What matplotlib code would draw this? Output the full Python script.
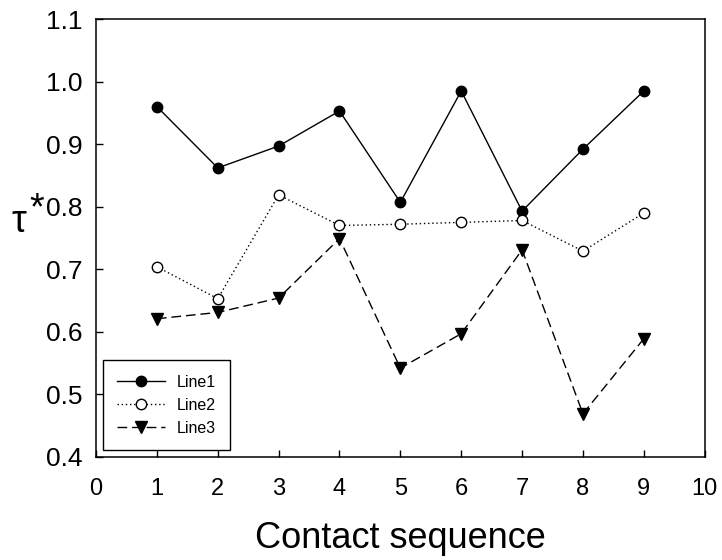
import numpy as np
import matplotlib
matplotlib.use('Agg')
import matplotlib.pyplot as plt

# data
contact = [1, 2, 3, 4, 5, 6, 7, 8, 9]
line1 = [0.960, 0.862, 0.897, 0.953, 0.807, 0.985, 0.793, 0.892, 0.985]
line2 = [0.704, 0.653, 0.819, 0.770, 0.772, 0.775, 0.778, 0.729, 0.790]
line3 = [0.621, 0.631, 0.654, 0.749, 0.542, 0.597, 0.731, 0.469, 0.589]
names = ['Line1', 'Line2', 'Line3']

plt.rcParams['font.family'] = ['Liberation Sans', 'DejaVu Sans']

fig = plt.figure(figsize=(7.22, 5.6), dpi=100)
ax = fig.add_axes([0.133, 0.184, 0.843, 0.782])

ax.plot(contact, line1, color='black', linestyle='-', linewidth=1.0,
        marker='o', markersize=7.5, markerfacecolor='black', markeredgecolor='black',
        label=names[0])
ax.plot(contact, line2, color='black', linestyle=(0, (1, 2)), linewidth=1.0,
        marker='o', markersize=7.5, markerfacecolor='white', markeredgecolor='black',
        markeredgewidth=1.0, label=names[1])
ax.plot(contact, line3, color='black', linestyle=(0, (7, 3.5)), linewidth=1.0,
        marker='v', markersize=8.5, markerfacecolor='black', markeredgecolor='black',
        label=names[2])

ax.set_xlim(0, 10)
ax.set_ylim(0.4, 1.1)
ax.set_xticks(range(0, 11))
ax.set_yticks(np.arange(0.4, 1.11, 0.1))
ax.set_yticklabels([f'{v:.1f}' for v in np.arange(0.4, 1.11, 0.1)])

for s in ax.spines.values():
    s.set_linewidth(1.1)
ax.tick_params(axis='both', direction='in', length=5, width=1.0)
ax.tick_params(axis='x', labelsize=17, pad=15)
ax.tick_params(axis='y', labelsize=19, pad=10)

ax.set_xlabel('Contact sequence', fontsize=26, labelpad=15)

# y label: tau with a raised full-size asterisk
fig.text(12 / 722, 1 - 232 / 560, 'τ', fontsize=27, ha='left', va='baseline')
fig.text(29 / 722, 1 - 219 / 560, '*', fontsize=27, ha='left', va='baseline')

leg = ax.legend(loc='lower left', bbox_to_anchor=(0.0115, 0.016), borderaxespad=0,
                fontsize=11.5, handlelength=3.0, handletextpad=0.7, labelspacing=0.5,
                borderpad=0.9, fancybox=False, framealpha=1, edgecolor='black')
leg.get_frame().set_linewidth(1.0)

plt.savefig('out.png', dpi=100)
